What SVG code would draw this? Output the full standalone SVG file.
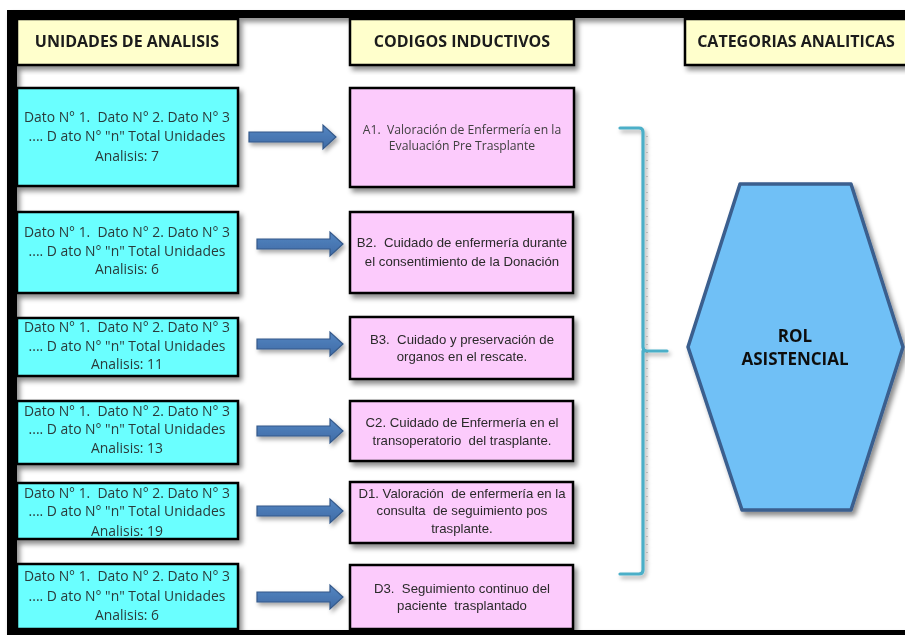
<svg xmlns="http://www.w3.org/2000/svg" width="905" height="635" viewBox="0 0 905 635">
  <style>
    text { white-space: pre; }
    .hdr { fill: #FFFFCC; stroke: #000; stroke-width: 2.5; }
    .unit { fill: #6BFFFF; stroke: #000; stroke-width: 2.5; }
    .code { fill: #FCCBFC; stroke: #000; stroke-width: 2.5; }
    .htxt { font-family: "Open Sans", "Liberation Sans", sans-serif; font-weight: bold; font-size: 16px; fill: #1a1a1a; text-anchor: middle; }
    .utxt { font-family: "Open Sans", "Liberation Sans", sans-serif; font-size: 13.9px; fill: #2b3b3b; text-anchor: middle; }
    .ctxt { font-family: "Liberation Sans", Arial, sans-serif; font-size: 13.2px; fill: #2a2a2a; text-anchor: middle; }
    .ctxt2 { font-family: "Open Sans", "Liberation Sans", sans-serif; font-size: 12.2px; fill: #404040; text-anchor: middle; }
    .cat { fill: #70C0F6; stroke: #3A5E8E; stroke-width: 3.5; stroke-linejoin: round; }
    .cattxt { font-family: "Open Sans", "Liberation Sans", sans-serif; font-weight: bold; font-size: 17px; fill: #111; text-anchor: middle; }
  </style>
  <defs>
    <filter id="shadow" x="-10%" y="-10%" width="130%" height="130%">
      <feDropShadow dx="3" dy="4" stdDeviation="2.5" flood-color="#000" flood-opacity="0.45"/>
    </filter>
    <filter id="shadowSoft" x="-10%" y="-10%" width="130%" height="130%">
      <feDropShadow dx="2" dy="3" stdDeviation="2" flood-color="#000" flood-opacity="0.35"/>
    </filter>
    <linearGradient id="arrowFill" x1="0" y1="0" x2="0" y2="1">
      <stop offset="0" stop-color="#5586C2"/>
      <stop offset="1" stop-color="#3E6BA6"/>
    </linearGradient>
  </defs>

  <rect width="905" height="635" fill="#fff"/>

  <!-- outer frame -->
  <g id="frame" filter="url(#shadow)">
    <rect x="7" y="10" width="898" height="8" fill="#000"/>
    <rect x="7" y="10" width="10" height="625" fill="#000"/>
    <rect x="7" y="630" width="898" height="5" fill="#000"/>
  </g>

  <!-- column headers -->
  <g id="hdr-unidades" filter="url(#shadow)">
    <rect class="hdr" x="17" y="19" width="221" height="46"/>
    <text class="htxt" x="127" y="47">UNIDADES DE ANALISIS</text>
  </g>
  <g id="hdr-codigos" filter="url(#shadow)">
    <rect class="hdr" x="350" y="19" width="224" height="46"/>
    <text class="htxt" x="462" y="47">CODIGOS INDUCTIVOS</text>
  </g>
  <g id="hdr-categorias" filter="url(#shadow)">
    <rect class="hdr" x="685" y="19" width="225" height="46"/>
    <text class="htxt" x="796" y="47">CATEGORIAS ANALITICAS</text>
  </g>

  <!-- units of analysis -->
  <g id="unit-1" filter="url(#shadow)">
    <rect class="unit" x="17" y="88" width="221" height="98"/>
    <text class="utxt" x="127" y="122">Dato N° 1.  Dato N° 2. Dato N° 3</text>
    <text class="utxt" x="127" y="141">.... D ato N° "n" Total Unidades</text>
    <text class="utxt" x="127" y="161">Analisis: 7</text>
  </g>
  <g id="unit-2" filter="url(#shadow)">
    <rect class="unit" x="17" y="212" width="221" height="81"/>
    <text class="utxt" x="127" y="237">Dato N° 1.  Dato N° 2. Dato N° 3</text>
    <text class="utxt" x="127" y="256">.... D ato N° "n" Total Unidades</text>
    <text class="utxt" x="127" y="274">Analisis: 6</text>
  </g>
  <g id="unit-3" filter="url(#shadow)">
    <rect class="unit" x="17" y="318" width="221" height="58"/>
    <text class="utxt" x="127" y="332">Dato N° 1.  Dato N° 2. Dato N° 3</text>
    <text class="utxt" x="127" y="351">.... D ato N° "n" Total Unidades</text>
    <text class="utxt" x="127" y="369">Analisis: 11</text>
  </g>
  <g id="unit-4" filter="url(#shadow)">
    <rect class="unit" x="17" y="401" width="221" height="63"/>
    <text class="utxt" x="127" y="416">Dato N° 1.  Dato N° 2. Dato N° 3</text>
    <text class="utxt" x="127" y="434">.... D ato N° "n" Total Unidades</text>
    <text class="utxt" x="127" y="453">Analisis: 13</text>
  </g>
  <g id="unit-5" filter="url(#shadow)">
    <rect class="unit" x="17" y="483" width="221" height="56"/>
    <text class="utxt" x="127" y="498">Dato N° 1.  Dato N° 2. Dato N° 3</text>
    <text class="utxt" x="127" y="516">.... D ato N° "n" Total Unidades</text>
    <text class="utxt" x="127" y="536">Analisis: 19</text>
  </g>
  <g id="unit-6" filter="url(#shadow)">
    <rect class="unit" x="17" y="564" width="221" height="65"/>
    <text class="utxt" x="127" y="581">Dato N° 1.  Dato N° 2. Dato N° 3</text>
    <text class="utxt" x="127" y="601">.... D ato N° "n" Total Unidades</text>
    <text class="utxt" x="127" y="620">Analisis: 6</text>
  </g>

  <!-- inductive codes -->
  <g id="code-a1" filter="url(#shadow)">
    <rect class="code" x="350" y="88" width="224" height="99"/>
    <text class="ctxt2" x="462" y="134">A1.  Valoración de Enfermería en la</text>
    <text class="ctxt2" x="462" y="150">Evaluación Pre Trasplante</text>
  </g>
  <g id="code-b2" filter="url(#shadow)">
    <rect class="code" x="350" y="212" width="223" height="81"/>
    <text class="ctxt" x="462" y="247">B2.  Cuidado de enfermería durante</text>
    <text class="ctxt" x="462" y="266">el consentimiento de la Donación</text>
  </g>
  <g id="code-b3" filter="url(#shadow)">
    <rect class="code" x="350" y="317" width="223" height="62"/>
    <text class="ctxt" x="462" y="344">B3.  Cuidado y preservación de</text>
    <text class="ctxt" x="462" y="361">organos en el rescate.</text>
  </g>
  <g id="code-c2" filter="url(#shadow)">
    <rect class="code" x="350" y="401" width="223" height="60"/>
    <text class="ctxt" x="462" y="427">C2. Cuidado de Enfermería en el</text>
    <text class="ctxt" x="462" y="445">transoperatorio  del trasplante.</text>
  </g>
  <g id="code-d1" filter="url(#shadow)">
    <rect class="code" x="350" y="482" width="223" height="61"/>
    <text class="ctxt" x="462" y="498">D1. Valoración  de enfermería en la</text>
    <text class="ctxt" x="462" y="515">consulta  de seguimiento pos</text>
    <text class="ctxt" x="462" y="533">trasplante.</text>
  </g>
  <g id="code-d3" filter="url(#shadow)">
    <rect class="code" x="350" y="565" width="223" height="64"/>
    <text class="ctxt" x="462" y="593">D3.  Seguimiento continuo del</text>
    <text class="ctxt" x="462" y="610">paciente  trasplantado</text>
  </g>

  <!-- analytic category -->
  <g id="cat-rol" filter="url(#shadow)">
    <polygon class="cat" points="740,184 851,184 903,347 851,510 742,510 688,347"/>
    <text class="cattxt" x="795" y="342">ROL</text>
    <text class="cattxt" x="795" y="365">ASISTENCIAL</text>
  </g>

  <!-- connectors -->
  <g id="connectors">
    <g filter="url(#shadowSoft)" fill="url(#arrowFill)" stroke="#34598A" stroke-width="1.2">
      <polygon points="249,132 323,132 323,125 336,137 323,149 323,142 249,142"/>
      <polygon points="257,239 330,239 330,232 343,244 330,256 330,249 257,249"/>
      <polygon points="257,339 330,339 330,332 343,344 330,356 330,349 257,349"/>
      <polygon points="257,426 330,426 330,419 343,431 330,443 330,436 257,436"/>
      <polygon points="257,506 330,506 330,499 343,511 330,523 330,516 257,516"/>
      <polygon points="257,592 330,592 330,585 343,597 330,609 330,602 257,602"/>
    </g>
    <!-- brace grouping the codes -->
    <g id="brace" filter="url(#shadowSoft)">
      <path d="M620,128 H639 Q643,128 643,132 V347 Q643,351 647,351 H667 M643,351 V570 Q643,574 639,574 H620"
            fill="none" stroke="#4BAFC8" stroke-width="3.2" stroke-linecap="round"/>
      <path d="M647,136 V568" fill="none" stroke="#555" stroke-width="1" stroke-dasharray="1 7" opacity="0.6"/>
    </g>
  </g>
</svg>
